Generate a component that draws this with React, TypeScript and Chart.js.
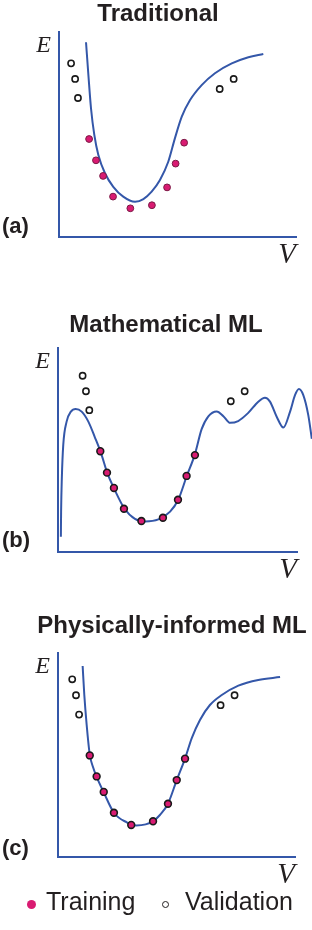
import React, { useEffect, useRef } from 'react';
import { Chart, registerables } from 'chart.js';

Chart.register(...registerables);

type Pt = [number, number];

// ---------- text ----------
const panelTitles = ['Traditional', 'Mathematical ML', 'Physically-informed ML'];
const panelTags = ['(a)', '(b)', '(c)'];
const axisLabelE = 'E';
const axisLabelV = 'V';
const legendLabels = ['Training', 'Validation'];

// ---------- data (arbitrary units, V on x 0-10, E on y 0-10) ----------
const trainingA: Pt[] = [
  [1.27, 4.78], [1.56, 3.74], [1.86, 2.98], [2.28, 1.97], [3.01, 1.40],
  [3.92, 1.55], [4.56, 2.42], [4.92, 3.58], [5.28, 4.60],
];
const validationA: Pt[] = [
  [0.51, 8.47], [0.68, 7.71], [0.80, 6.78], [6.78, 7.22], [7.37, 7.71],
];
const curveA: Pt[] = [
  [1.14, 9.50], [1.24, 7.90], [1.35, 6.28], [1.49, 4.98], [1.66, 4.00],
  [1.94, 3.11], [2.29, 2.45], [2.71, 1.97], [3.21, 1.72], [3.56, 1.85],
  [3.91, 2.21], [4.26, 2.78], [4.61, 3.67], [4.89, 4.81], [5.18, 5.87],
  [5.53, 6.68], [6.02, 7.41], [6.58, 7.99], [7.29, 8.47], [7.99, 8.77],
  [8.62, 8.93],
];

const trainingB: Pt[] = [
  [1.77, 4.94], [2.05, 3.89], [2.34, 3.14], [2.76, 2.12], [3.49, 1.52],
  [4.39, 1.68], [5.02, 2.56], [5.38, 3.73], [5.73, 4.75],
];
const validationB: Pt[] = [
  [1.03, 8.64], [1.17, 7.88], [1.31, 6.95], [7.23, 7.39], [7.81, 7.88],
];
const curveB: Pt[] = [
  [0.12, 0.75], [0.13, 2.0], [0.16, 3.61], [0.22, 5.25], [0.36, 6.39],
  [0.54, 6.88], [0.74, 7.01], [0.99, 6.88], [1.27, 6.39], [1.55, 5.6],
  [1.80, 4.85], [2.07, 3.85], [2.36, 3.08], [2.78, 2.13], [3.22, 1.62],
  [3.65, 1.50], [4.20, 1.60], [4.69, 1.98], [5.03, 2.56], [5.38, 3.70],
  [5.73, 4.80], [6.01, 6.02], [6.29, 6.65], [6.64, 6.89], [6.92, 6.66],
  [7.20, 6.33], [7.54, 6.42], [7.96, 6.82], [8.38, 7.37], [8.66, 7.56],
  [8.87, 7.37], [9.15, 6.63], [9.43, 6.10], [9.71, 6.88], [9.92, 7.70],
  [10.08, 7.99], [10.26, 7.70], [10.47, 6.72], [10.62, 5.55],
];

const trainingC: Pt[] = [
  [1.34, 4.98], [1.63, 3.95], [1.93, 3.19], [2.36, 2.17], [3.09, 1.57],
  [4.01, 1.75], [4.64, 2.61], [5.01, 3.77], [5.36, 4.82],
];
const validationC: Pt[] = [
  [0.60, 8.71], [0.76, 7.93], [0.89, 6.98], [6.86, 7.44], [7.45, 7.93],
];
const curveC: Pt[] = [
  [1.04, 9.36], [1.11, 7.94], [1.21, 6.47], [1.34, 5.02], [1.48, 4.40],
  [1.63, 3.93], [1.93, 3.17], [2.36, 2.17], [2.90, 1.70], [3.30, 1.55],
  [3.70, 1.60], [4.01, 1.75], [4.30, 2.06], [4.64, 2.61], [5.01, 3.77],
  [5.36, 4.82], [5.64, 5.82], [5.99, 6.72], [6.41, 7.45], [6.91, 7.94],
  [7.61, 8.40], [8.45, 8.68], [9.37, 8.82],
];

const X_RANGE: Pt = [0, 10];
const Y_RANGE: Pt = [0, 10];

// ---------- style ----------
const BLUE = '#3457a9';
const PINK = '#d91b72';
const INK = '#231f20';
const SANS = "'Liberation Sans', Arial, sans-serif";
const SERIF = "'Liberation Serif', 'Times New Roman', serif";

interface PanelSpec {
  title: string;
  tag: string;
  training: Pt[];
  validation: Pt[];
  curve: Pt[];
  top: number;
  height: number;
  plotLeft: number;
  padRight: number;
  padTop: number;
  titleX: number;
  titleY: number;
  tagOffset: number;
  trainBorder: string;
  trainBorderWidth: number;
}

const panels: PanelSpec[] = [
  {
    title: panelTitles[0], tag: panelTags[0],
    training: trainingA, validation: validationA, curve: curveA,
    top: 0, height: 270, plotLeft: 59, padRight: 16, padTop: 32,
    titleX: 158, titleY: 20.7, tagOffset: -4,
    trainBorder: '#7a1a45', trainBorderWidth: 1,
  },
  {
    title: panelTitles[1], tag: panelTags[1],
    training: trainingB, validation: validationB, curve: curveB,
    top: 300, height: 285, plotLeft: 58, padRight: 15, padTop: 48,
    titleX: 166, titleY: 31.7, tagOffset: -5,
    trainBorder: '#1a1a1a', trainBorderWidth: 1.6,
  },
  {
    title: panelTitles[2], tag: panelTags[2],
    training: trainingC, validation: validationC, curve: curveC,
    top: 600, height: 290, plotLeft: 58, padRight: 17, padTop: 53,
    titleX: 172, titleY: 33.3, tagOffset: -2,
    trainBorder: '#1a1a1a', trainBorderWidth: 1.6,
  },
];

const toXY = (pts: Pt[]) => pts.map(([x, y]) => ({ x, y }));

const panelLabelsPlugin = {
  id: 'panelLabels',
  afterDraw(chart: any, _args: any, opts: any) {
    const { ctx, chartArea } = chart;
    ctx.save();
    ctx.fillStyle = INK;
    ctx.textBaseline = 'alphabetic';
    // panel title
    ctx.font = `bold 24px ${SANS}`;
    ctx.textAlign = 'center';
    ctx.fillText(opts.title, opts.titleX, opts.titleY);
    // E axis label, upright at the top of the y axis
    ctx.font = `italic 24px ${SERIF}`;
    ctx.textAlign = 'right';
    ctx.fillText(opts.axisLabel, chartArea.left - 8, chartArea.top + 20);
    // panel tag
    ctx.font = `bold 22px ${SANS}`;
    ctx.textAlign = 'left';
    ctx.fillText(opts.tag, 2, chartArea.bottom + opts.tagOffset);
    ctx.restore();
  },
};

function buildConfig(p: PanelSpec): any {
  return {
    type: 'scatter',
    data: {
      datasets: [
        {
          label: legendLabels[0],
          data: toXY(p.training),
          pointRadius: 3.4,
          pointBackgroundColor: PINK,
          pointBorderColor: p.trainBorder,
          pointBorderWidth: p.trainBorderWidth,
          backgroundColor: PINK,
          borderColor: p.trainBorder,
        },
        {
          label: legendLabels[1],
          data: toXY(p.validation),
          pointRadius: 3.1,
          pointBackgroundColor: '#ffffff',
          pointBorderColor: '#1a1a1a',
          pointBorderWidth: 1.6,
          backgroundColor: '#ffffff',
          borderColor: '#1a1a1a',
        },
        {
          type: 'line',
          label: 'Fit',
          data: toXY(p.curve),
          borderColor: BLUE,
          borderWidth: 2,
          pointRadius: 0,
          fill: false,
          cubicInterpolationMode: 'monotone',
          clip: false,
        },
      ],
    },
    options: {
      responsive: false,
      animation: false,
      events: [],
      layout: { padding: { left: 0, right: p.padRight, top: p.padTop, bottom: 0 } },
      plugins: {
        legend: { display: false },
        tooltip: { enabled: false },
        title: { display: false },
        panelLabels: {
          title: p.title, titleX: p.titleX, titleY: p.titleY,
          axisLabel: axisLabelE, tag: p.tag, tagOffset: p.tagOffset,
        },
      },
      scales: {
        x: {
          type: 'linear',
          bounds: 'data',
          afterDataLimits: (s: any) => { s.min = X_RANGE[0]; s.max = X_RANGE[1]; },
          grid: { display: false, drawTicks: false },
          ticks: { display: false },
          border: { display: true, color: BLUE, width: 2 },
          title: {
            display: true,
            text: axisLabelV,
            align: 'end',
            color: INK,
            font: { family: SERIF, size: 29, style: 'italic', lineHeight: 1 },
            padding: { top: 4, bottom: 0 },
          },
        },
        y: {
          type: 'linear',
          min: Y_RANGE[0],
          max: Y_RANGE[1],
          bounds: 'data',
          grid: { display: false, drawTicks: false },
          ticks: { display: false },
          border: { display: true, color: BLUE, width: 2 },
          afterFit: (s: any) => { s.width = p.plotLeft; },
        },
      },
    },
    plugins: [panelLabelsPlugin],
  };
}

function Panel({ spec }: { spec: PanelSpec }) {
  const ref = useRef<HTMLCanvasElement | null>(null);
  useEffect(() => {
    if (!ref.current) return;
    const chart = new Chart(ref.current, buildConfig(spec));
    return () => chart.destroy();
  }, [spec]);
  return (
    <div style={{ position: 'absolute', left: 0, top: spec.top, width: 312, height: spec.height }}>
      <canvas ref={ref} width={312} height={spec.height} style={{ display: 'block' }} />
    </div>
  );
}

export default function App() {
  const textStyle: React.CSSProperties = {
    fontFamily: SANS, fontSize: 25, lineHeight: '25px', color: INK, whiteSpace: 'nowrap',
  };
  return (
    <div style={{ position: 'absolute', left: 0, top: 0, width: 312, height: 930, overflow: 'hidden', background: '#ffffff' }}>
      {panels.map((p) => <Panel key={p.tag} spec={p} />)}
      <div style={{ position: 'absolute', left: 27, top: 889, display: 'flex', alignItems: 'flex-start' }}>
        <span style={{ display: 'inline-block', width: 9, height: 9, borderRadius: '50%', background: PINK, marginTop: 11, marginRight: 10 }} />
        <span style={textStyle}>{legendLabels[0]}</span>
      </div>
      <div style={{ position: 'absolute', left: 162, top: 889, display: 'flex', alignItems: 'flex-start' }}>
        <span style={{ display: 'inline-block', boxSizing: 'border-box', width: 7, height: 7, borderRadius: '50%', background: '#fff', border: `1.3px solid ${INK}`, marginTop: 12, marginRight: 16 }} />
        <span style={textStyle}>{legendLabels[1]}</span>
      </div>
    </div>
  );
}
